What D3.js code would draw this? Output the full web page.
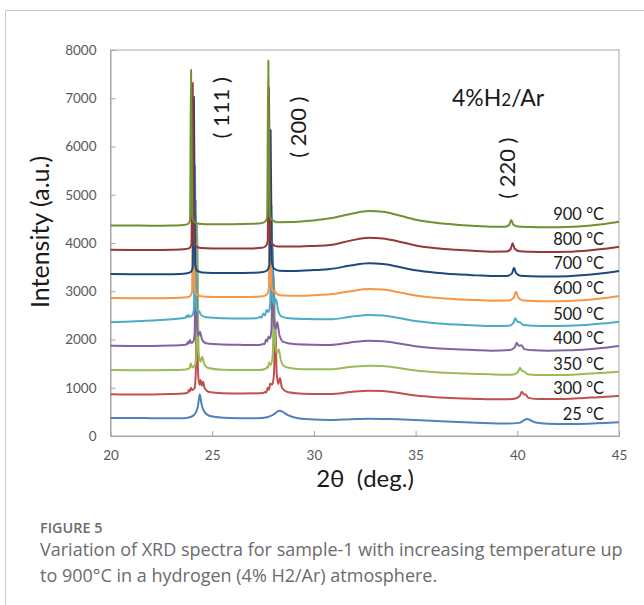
<!DOCTYPE html>
<html>
<head>
<meta charset="utf-8">
<script src="https://cdn.jsdelivr.net/npm/d3@7"></script>
<style>
  html, body { margin: 0; padding: 0; background: #fff; }
  svg { display: block; }
</style>
</head>
<body>
<svg id="chart" width="644" height="605"></svg>
<script>
// XRD scans of sample-1 heated in 4% H2/Ar: [2θ (deg), intensity (a.u.)], offset per temperature
const temperatures = ["25 °C", "300 °C", "350 °C", "400 °C", "500 °C", "600 °C", "700 °C", "800 °C", "900 °C"];
const seriesColors = ["#4f81bd", "#c0504d", "#9bbb59", "#8064a2", "#4bacc6", "#f79646", "#1f497d", "#953735", "#6f9033"];

const scan25 = [[20,375],[21,372],[22,370],[23,368],[23.6,370],[24.0,405],[24.2,490],[24.3,620],[24.39,864],[24.48,650],[24.62,500],[24.85,420],[25.4,385],[26.4,370],[27.2,367],[27.7,390],[28.0,440],[28.2,505],[28.32,524],[28.45,505],[28.7,440],[29.1,380],[29.8,345],[30.8,332],[31.8,348],[32.7,359],[33.7,352],[35,330],[36.5,300],[38,275],[39.5,258],[40.1,272],[40.3,320],[40.49,352],[40.68,320],[40.9,280],[41.5,255],[42.5,248],[43.5,255],[44.3,268],[45,284]];

const scan300 = [[20,866],[21,862],[22,862],[23,868],[23.6,880],[23.8,900],[23.85,955],[23.9,920],[23.95,1000],[24.02,950],[24.14,1000],[24.19,1300],[24.24,4000],[24.3,1350],[24.37,1060],[24.43,1160],[24.49,1040],[24.55,1125],[24.63,990],[24.85,910],[25.5,888],[26.5,882],[27.3,884],[27.5,892],[27.6,910],[27.65,900],[27.73,1000],[27.79,960],[27.85,1090],[27.95,1060],[28.04,1300],[28.1,2400],[28.17,1300],[28.25,1080],[28.33,1200],[28.43,1000],[28.7,910],[29.3,880],[30,872],[30.8,870],[31.8,912],[32.7,940],[33.4,931],[34.1,895],[35,841],[36,805],[37,783],[38,769],[38.7,760],[39.8,765],[40.12,830],[40.22,918],[40.32,865],[40.41,860],[40.55,790],[41.1,765],[42,765],[43,780],[44,805],[45,829]];

const scan350 = [[20,1368],[21,1365],[22,1363],[23,1366],[23.7,1380],[23.88,1400],[23.95,1510],[24.02,1420],[24.16,1470],[24.22,1700],[24.27,4400],[24.33,1750],[24.42,1540],[24.51,1645],[24.6,1500],[24.8,1410],[25.5,1375],[26.5,1368],[27.3,1368],[27.55,1385],[27.65,1400],[27.7,1430],[27.75,1415],[27.8,1530],[27.88,1470],[27.98,1700],[28.04,3300],[28.1,1900],[28.18,1720],[28.27,1800],[28.38,1560],[28.6,1430],[29.2,1390],[30,1384],[30.8,1382],[31.8,1428],[32.7,1458],[33.4,1449],[34.1,1413],[35,1359],[36,1323],[37,1301],[38,1287],[38.7,1278],[39.75,1270],[40.03,1320],[40.13,1415],[40.23,1350],[40.33,1340],[40.5,1280],[41,1265],[41.8,1262],[42.7,1272],[43.6,1295],[44.3,1312],[45,1333]];

const scan400 = [[20,1868],[21,1866],[22,1866],[23,1874],[23.6,1886],[23.75,1900],[23.8,1950],[23.85,1915],[23.9,1990],[23.97,1930],[24.08,1960],[24.14,2150],[24.19,4900],[24.25,2300],[24.32,2080],[24.4,2160],[24.5,2000],[24.7,1920],[25.5,1895],[26.5,1888],[27.3,1886],[27.45,1895],[27.53,1910],[27.58,1900],[27.64,2000],[27.7,1960],[27.77,2060],[27.85,2020],[27.92,2250],[27.97,4000],[28.04,2330],[28.12,2230],[28.2,2360],[28.3,2100],[28.5,1950],[29,1905],[30,1890],[30.8,1886],[31.8,1940],[32.7,1976],[33.4,1966],[34.1,1924],[35,1862],[36,1821],[37,1796],[38,1779],[38.7,1769],[39.65,1782],[39.88,1840],[39.97,1934],[40.07,1870],[40.2,1880],[40.35,1800],[40.8,1775],[41.5,1768],[42.5,1775],[43.5,1800],[44.3,1830],[45,1865]];

const scan500 = [[20,2360],[21,2375],[22,2395],[23,2420],[23.5,2440],[23.68,2450],[23.75,2490],[23.79,2460],[23.84,2510],[23.9,2470],[24.02,2500],[24.1,2620],[24.15,5600],[24.21,2700],[24.28,2580],[24.35,2590],[24.45,2510],[24.7,2460],[25.5,2440],[26.5,2435],[27.2,2440],[27.35,2470],[27.42,2450],[27.52,2540],[27.59,2500],[27.68,2610],[27.76,2570],[27.85,2720],[27.92,4800],[27.98,2800],[28.06,2740],[28.14,2840],[28.23,2620],[28.4,2480],[28.8,2440],[29.6,2425],[30.8,2418],[31.8,2472],[32.7,2508],[33.4,2497],[34.1,2451],[35,2383],[36,2337],[37,2310],[38,2291],[38.7,2280],[39.6,2285],[39.8,2340],[39.9,2439],[40.0,2370],[40.13,2355],[40.3,2300],[40.8,2285],[41.5,2278],[42.5,2285],[43.5,2305],[44.3,2335],[45,2370]];

const scan600 = [[20,2858],[21,2856],[22,2853],[23,2858],[23.6,2868],[23.9,2895],[24.01,2990],[24.07,6300],[24.13,3080],[24.22,2935],[24.3,2925],[24.4,2900],[24.7,2885],[25.5,2880],[26.5,2880],[27.2,2885],[27.55,2900],[27.72,2950],[27.79,3080],[27.84,5600],[27.9,3150],[28.0,3000],[28.09,2990],[28.2,2935],[28.5,2910],[29.2,2905],[30,2918],[30.8,2936],[31.8,3002],[32.7,3046],[33.4,3034],[34.1,2986],[35,2913],[36,2865],[37,2836],[38,2817],[38.7,2805],[39.55,2808],[39.82,2860],[39.94,2990],[40.05,2870],[40.25,2815],[40.8,2800],[41.5,2795],[42.5,2800],[43.5,2825],[44.3,2860],[45,2902]];

const scan700 = [[20,3355],[21,3352],[22,3350],[23,3354],[23.6,3362],[23.92,3390],[24.04,3480],[24.1,7030],[24.16,3560],[24.26,3420],[24.5,3390],[25,3380],[26,3380],[27,3384],[27.5,3398],[27.7,3430],[27.81,3540],[27.87,6340],[27.93,3620],[28.04,3470],[28.3,3425],[29,3420],[30,3438],[30.8,3461],[31.8,3532],[32.7,3579],[33.4,3566],[34.1,3513],[35,3434],[36,3382],[37,3350],[38,3329],[38.7,3316],[39.5,3318],[39.74,3370],[39.84,3489],[39.94,3375],[40.15,3322],[40.7,3310],[41.5,3305],[42.5,3312],[43.5,3340],[44.3,3378],[45,3420]];

const scan800 = [[20,3860],[21,3857],[22,3853],[23,3860],[23.6,3870],[23.88,3895],[23.98,3970],[24.04,7320],[24.1,4050],[24.2,3930],[24.45,3895],[25,3885],[26,3885],[27,3888],[27.45,3900],[27.63,3935],[27.73,4030],[27.79,7210],[27.85,4120],[27.96,3975],[28.25,3925],[29,3925],[30,3940],[30.8,3958],[31.8,4049],[32.7,4110],[33.4,4095],[34.1,4037],[35,3950],[36,3892],[37,3858],[38,3834],[38.7,3820],[39.45,3822],[39.67,3870],[39.77,3994],[39.87,3880],[40.1,3830],[40.7,3818],[41.5,3812],[42.5,3818],[43.5,3845],[44.3,3880],[45,3924]];

const scan900 = [[20,4365],[21,4362],[22,4358],[23,4362],[23.6,4372],[23.82,4395],[23.91,4470],[23.96,7590],[24.02,4560],[24.12,4440],[24.35,4400],[25,4388],[26,4388],[27,4398],[27.4,4410],[27.6,4440],[27.7,4530],[27.76,7780],[27.82,4640],[27.92,4480],[28.2,4432],[29,4435],[30,4468],[30.8,4511],[31.8,4602],[32.7,4663],[33.4,4647],[34.1,4582],[35,4484],[36,4419],[37,4380],[38,4354],[38.7,4338],[39.4,4338],[39.6,4370],[39.7,4477],[39.8,4385],[40,4340],[40.6,4330],[41.5,4325],[42.5,4333],[43.5,4360],[44.3,4395],[45,4441]];

const scans = [scan25, scan300, scan350, scan400, scan500, scan600, scan700, scan800, scan900];

const xTicks = [20, 25, 30, 35, 40, 45];
const yTicks = [0, 1000, 2000, 3000, 4000, 5000, 6000, 7000, 8000];
const reflections = [
  { hkl: "( 111 )", at: 25.53, level: 6800 },
  { hkl: "( 200 )", at: 29.36, level: 6400 },
  { hkl: "( 220 )", at: 39.62, level: 5550 }
];

const svg = d3.select("#chart");
const W = 644, H = 605;
const plot = { left: 110.5, right: 619, top: 50, bottom: 436 };

// page frame
svg.append("path")
  .attr("d", `M5.5,${H} V10.5 H${W}`)
  .attr("fill", "none").attr("stroke", "#c8c8c8").attr("stroke-width", 1);

const x = d3.scaleLinear().domain([20, 45]).range([plot.left, plot.right]);
const y = d3.scaleLinear().domain([0, 8000]).range([plot.bottom, plot.top]);

const axisColor = "#a6a6a6";
const tickFont = "Lato, 'Open Sans', sans-serif";

// plot box
svg.append("rect")
  .attr("x", plot.left).attr("y", plot.top)
  .attr("width", plot.right - plot.left).attr("height", plot.bottom - plot.top)
  .attr("fill", "none").attr("stroke", axisColor).attr("stroke-width", 1);

// x axis: inward ticks
const xAxis = svg.append("g")
  .attr("transform", `translate(0,${plot.bottom})`)
  .call(d3.axisBottom(x).tickValues(xTicks).tickSizeInner(-5).tickSizeOuter(0).tickPadding(14));
xAxis.select(".domain").attr("stroke", axisColor);
xAxis.selectAll(".tick line").attr("stroke", axisColor);
xAxis.selectAll(".tick text")
  .attr("fill", "#595959").style("font-family", tickFont).style("font-size", "13.5px");

// y axis: inward ticks
const yAxis = svg.append("g")
  .attr("transform", `translate(${plot.left},0)`)
  .call(d3.axisLeft(y).tickValues(yTicks).tickSizeInner(-5).tickSizeOuter(0).tickPadding(14).tickFormat(d3.format("d")));
yAxis.select(".domain").attr("stroke", axisColor);
yAxis.selectAll(".tick line").attr("stroke", axisColor);
yAxis.selectAll(".tick text")
  .attr("fill", "#595959").style("font-family", tickFont).style("font-size", "13.5px");

// spectra
const line = d3.line()
  .x(d => x(d[0]))
  .y(d => y(d[1]))
  .curve(d3.curveMonotoneX);

svg.append("g").selectAll("path")
  .data(scans)
  .join("path")
  .attr("d", line)
  .attr("fill", "none")
  .attr("stroke", (d, i) => seriesColors[i])
  .attr("stroke-width", 2)
  .attr("stroke-linejoin", "round");

// temperature labels at the right end of each scan
svg.append("g").selectAll("text")
  .data(scans)
  .join("text")
  .attr("x", 604)
  .attr("y", d => y(d[d.length - 1][1]) - 6)
  .attr("text-anchor", "end")
  .attr("dominant-baseline", "middle")
  .style("font-family", tickFont)
  .style("font-size", "16.5px")
  .attr("fill", "#1a1a1a")
  .text((d, i) => temperatures[i]);

// Miller indices
svg.append("g").selectAll("text")
  .data(reflections)
  .join("text")
  .attr("transform", d => `translate(${x(d.at)},${y(d.level)}) rotate(-90)`)
  .attr("text-anchor", "middle")
  .attr("dominant-baseline", "middle")
  .attr("xml:space", "preserve")
  .style("font-family", tickFont)
  .style("font-size", "22px")
  .attr("fill", "#1a1a1a")
  .text(d => d.hkl);

// atmosphere
const atm = svg.append("text")
  .attr("x", 452).attr("y", 106)
  .style("font-family", tickFont)
  .style("font-size", "23px")
  .attr("fill", "#1a1a1a");
atm.append("tspan").text("4%H");
atm.append("tspan").style("font-size", "17px").text("2");
atm.append("tspan").text("/Ar");

// axis titles
svg.append("text")
  .attr("transform", `translate(43,${(plot.top + plot.bottom) / 2 - 11}) rotate(-90)`)
  .attr("text-anchor", "middle")
  .attr("dominant-baseline", "middle")
  .style("font-family", tickFont)
  .style("font-size", "25px")
  .attr("fill", "#1a1a1a")
  .text("Intensity (a.u.)");

svg.append("text")
  .attr("x", 365).attr("y", 481)
  .attr("text-anchor", "middle")
  .attr("dominant-baseline", "middle")
  .style("font-family", tickFont)
  .style("font-size", "24px")
  .attr("fill", "#1a1a1a")
  .attr("xml:space", "preserve")
  .text("2θ  (deg.)");

// caption
const capFont = "'Open Sans', 'Noto Sans', sans-serif";
svg.append("text")
  .attr("x", 40).attr("y", 533)
  .style("font-family", capFont).style("font-size", "14.4px").style("font-weight", 600)
  .attr("fill", "#6b6b6b")
  .text("FIGURE 5");
svg.append("text")
  .attr("x", 40).attr("y", 556)
  .style("font-family", capFont).style("font-size", "18px")
  .attr("fill", "#6b6b6b")
  .text("Variation of XRD spectra for sample-1 with increasing temperature up");
svg.append("text")
  .attr("x", 40).attr("y", 582)
  .style("font-family", capFont).style("font-size", "18px")
  .attr("fill", "#6b6b6b")
  .text("to 900°C in a hydrogen (4% H2/Ar) atmosphere.");
</script>
</body>
</html>
